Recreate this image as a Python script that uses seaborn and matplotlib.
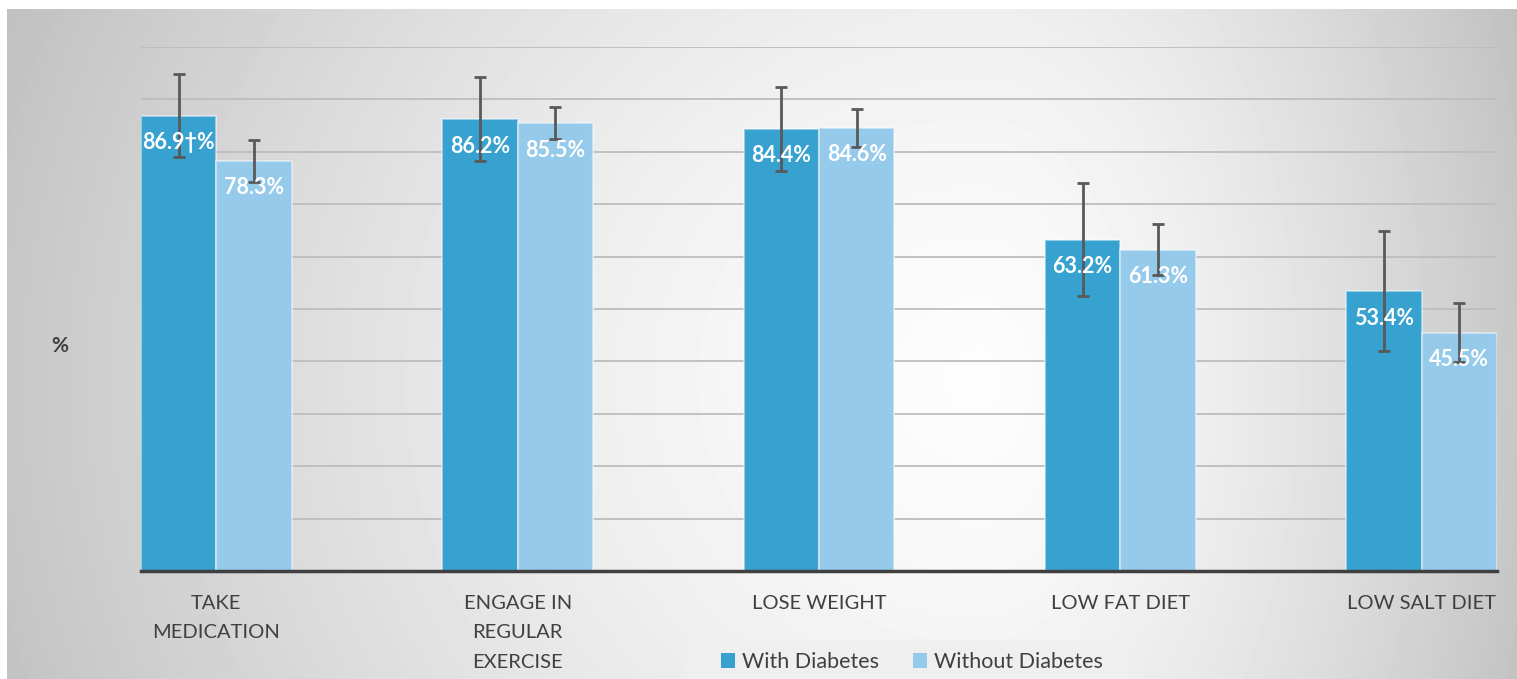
import numpy as np
import pandas as pd
import matplotlib
matplotlib.use("Agg")
import matplotlib.pyplot as plt
from matplotlib.patches import Rectangle, Patch
import seaborn as sns

# data
categories = ["TAKE\nMEDICATION", "ENGAGE IN\nREGULAR\nEXERCISE", "LOSE WEIGHT",
              "LOW FAT DIET", "LOW SALT DIET"]
groups = ["With Diabetes", "Without Diabetes"]
with_diabetes = [86.9, 86.2, 84.4, 63.2, 53.4]
without_diabetes = [78.3, 85.5, 84.6, 61.3, 45.5]
with_err = [7.9, 8.0, 8.0, 10.8, 11.4]
without_err = [4.0, 3.1, 3.6, 4.9, 5.6]
with_notes = ["\u2020", "", "", "", ""]
without_notes = ["", "", "", "", ""]

colors = ["#37A2D0", "#95CAEB"]
text_dark = "#404040"

sns.set_style("white")
plt.rcParams["font.family"] = ["Lato", "DejaVu Sans"]

W, H = 1517, 679
fig = plt.figure(figsize=(W / 100, H / 100), dpi=100)
fig.patch.set_facecolor("white")

# gray gradient behind the chart, lightest a bit right of centre
bg = fig.add_axes([7 / W, 0, 1 - 7 / W, (H - 9) / H], zorder=-10)
yy, xx = np.mgrid[9:H, 7:W].astype(float)
cx, cy = 980.0, 380.0
dxn = np.where(xx < cx, (xx - cx) / (cx - 7), (xx - cx) / (W - cx))
dyn = (yy - cy) / 900.0
d = np.sqrt(dxn ** 2 + dyn ** 2)
shade = 0.99 - 0.21 * np.clip(d, 0, 1.3) ** 1.5
bg.imshow(shade, cmap="gray", vmin=0, vmax=1, aspect="auto", interpolation="bilinear")
bg.axis("off")

ax = fig.add_axes([141 / W, 1 - 571 / H, (1497 - 141) / W, (571 - 47) / H])
ax.set_facecolor("none")

df = pd.DataFrame({
    "category": categories * 2,
    "group": [groups[0]] * 5 + [groups[1]] * 5,
    "value": with_diabetes + without_diabetes,
})

sns.barplot(data=df, x="category", y="value", hue="group", hue_order=groups,
            palette=colors, width=0.5, errorbar=None, legend=False, ax=ax,
            saturation=1, edgecolor=(1, 1, 1, 0.45), linewidth=1.5, zorder=2)

errs = [with_err, without_err]
notes = [with_notes, without_notes]
vals = [with_diabetes, without_diabetes]
bar_groups = list(ax.containers)
for gi, cont in enumerate(bar_groups):
    for i, bar in enumerate(cont):
        xc = bar.get_x() + bar.get_width() / 2
        v = vals[gi][i]
        ax.errorbar(xc, v, yerr=errs[gi][i], fmt="none", ecolor="#595959",
                    elinewidth=2, capsize=4.5, capthick=2, zorder=4)
        ax.annotate(f"{v:.1f}{notes[gi][i]}%", (xc, v), xytext=(0, -19.5),
                    textcoords="offset points", ha="center", va="center",
                    color="white", fontsize=15.5, fontweight="bold", zorder=5)

ax.set_xlim(-0.25, 4.25)
ax.set_ylim(0, 100)
ax.set_yticks(np.arange(0, 101, 10))
ax.set_yticklabels([])
ax.yaxis.grid(True, color="#bdbdbd", linewidth=1.3)
ax.set_axisbelow(True)
ax.set_xlabel("")
ax.set_ylabel("")
for s in ["left", "right", "top"]:
    ax.spines[s].set_visible(False)
ax.spines["bottom"].set_color(text_dark)
ax.spines["bottom"].set_linewidth(2.5)
ax.spines["bottom"].set_zorder(6)
ax.tick_params(axis="both", length=0)
ax.tick_params(axis="x", pad=17, labelsize=14.5, labelcolor=text_dark)
for lab in ax.get_xticklabels():
    lab.set_linespacing(1.9)
    lab.set_va("top")

fig.text(60 / W, 1 - 346 / H, "%", ha="center", va="center", fontsize=15,
         fontweight="bold", color=text_dark)

# legend box
fig.patches.append(Rectangle((682 / W, 0), (1135 - 682) / W, 39 / H,
                             transform=fig.transFigure, facecolor="#efefef",
                             edgecolor="none", zorder=1))
handles = [Patch(facecolor=c, edgecolor="none") for c in colors]
fig.legend(handles, groups, loc="center", bbox_to_anchor=(912 / W, 1 - 662 / H),
           ncol=2, frameon=False, fontsize=15.5, handlelength=0.65, handleheight=0.65,
           handletextpad=0.3, columnspacing=1.6, labelcolor=text_dark)

fig.savefig("out.png", dpi=100)
